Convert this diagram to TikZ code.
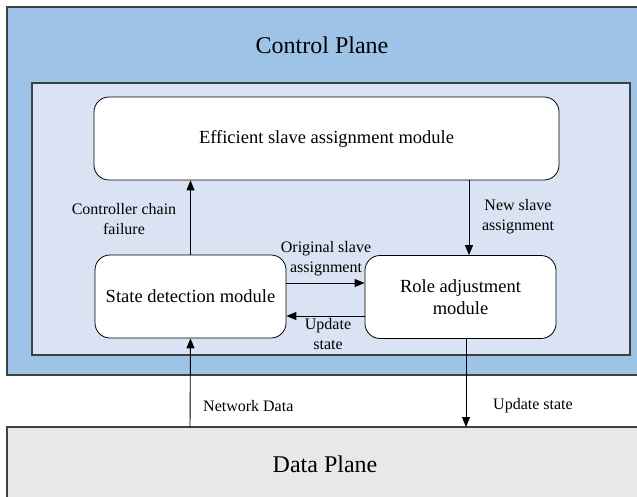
\documentclass[tikz,border=0pt]{standalone}
\usepackage{fontspec}
\setmainfont{Liberation Serif}
\usetikzlibrary{arrows.meta}
\definecolor{ctrlblue}{HTML}{9DC3E6}
\definecolor{innerlav}{HTML}{DAE3F3}
\definecolor{datagray}{HTML}{E8E8E8}
\definecolor{edge}{HTML}{404040}
\tikzset{
  module/.style={draw=black, fill=white, rounded corners=15pt, line width=0.8pt,
    inner sep=0pt, align=center, font=\fontsize{18.5}{22}\selectfont},
  link/.style={-{Triangle[length=10pt,width=8pt]}, line width=0.9pt},
  lbl/.style={font=\fontsize{16}{20}\selectfont, align=center, inner sep=0pt},
  plane/.style={font=\fontsize{24}{28}\selectfont},
}
\begin{document}
\begin{tikzpicture}[x=1pt,y=-1pt]
\useasboundingbox (0,0) rectangle (637,496);
% control plane band
\fill[ctrlblue] (7,7) rectangle (637,375);
\draw[edge, line width=1.2pt] (640,7) -- (7,7) -- (7,375) -- (640,375);
\node[plane] (cp) at (322,45) {Control Plane};
% inner region
\draw[edge, fill=innerlav, line width=1.2pt] (32,83) rectangle (630,355);
% data plane band
\fill[datagray] (7,427) rectangle (637,500);
\draw[edge, line width=1.2pt] (7,500) -- (7,427) -- (640,427);
\node[plane] (dp) at (325,464) {Data Plane};
% modules
\node[module, minimum width=465pt, minimum height=83pt] (esa) at (326.5,138.5)
  {Efficient slave assignment module};
\node[module, minimum width=191pt, minimum height=83pt] (sdm) at (190.5,296.5)
  {State detection module};
\node[module, minimum width=191pt, minimum height=83pt] (ram) at (460.5,297)
  {Role adjustment\\module};
% anchor points on the planes
\coordinate (nd) at (190,427);
\coordinate (us) at (466,427);
% connectors
\draw[link] (sdm.north) -- (sdm.north |- esa.south);
\draw[link] (esa.south -| 469,0) -- (469,0 |- ram.north);
\draw[link] (sdm.east |- 0,283) -- (ram.west |- 0,283);
\draw[link] (ram.west |- 0,316) -- (sdm.east |- 0,316);
\draw[link] (nd) -- (sdm.south);
\draw[link] (ram.south -| us) -- (us);
% labels
\node[lbl] (l1) at (124,219) {Controller chain\\failure};
\node[lbl] (l2) at (518,217) {New slave\\assignment};
\node[lbl] (l3) at (326,259) {Original slave\\assignment};
\node[lbl] (l4) at (328,334) {Update\\state};
\node[lbl, anchor=west] (l5) at (203,406) {Network Data};
\node[lbl, anchor=west] (l6) at (493,406) {Update state};
\end{tikzpicture}
\end{document}
